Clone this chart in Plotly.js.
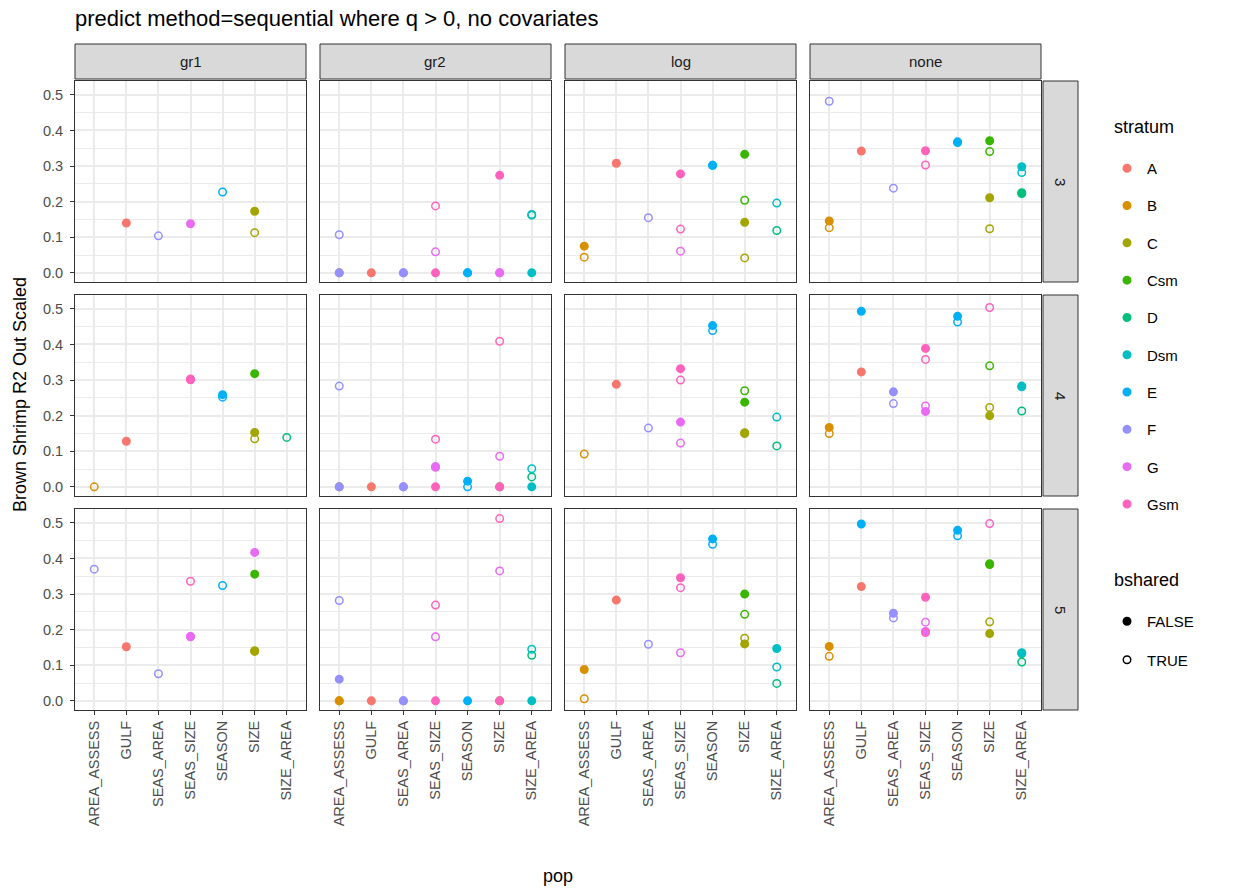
<!DOCTYPE html>
<html>
<head>
<meta charset="utf-8">
<script src="https://cdn.plot.ly/plotly-3.0.1.min.js"></script>
<style>html,body{margin:0;padding:0;background:#fff;}#chart{width:1233px;height:892px;}</style>
</head>
<body>
<div id="chart"></div>
<script>
// ---------------- data ----------------
const pops = ['AREA_ASSESS','GULF','SEAS_AREA','SEAS_SIZE','SEASON','SIZE','SIZE_AREA'];
const methods = ['gr1','gr2','log','none'];
const qLevels = ['3','4','5'];
const strata = ['A','B','C','Csm','D','Dsm','E','F','G','Gsm'];
const strataColors = ['#F8766D','#D89000','#A3A500','#39B600','#00BF7D','#00BFC4','#00B0F6','#9590FF','#E76BF3','#FF62BC'];
const sharedLevels = ['FALSE','TRUE'];

// one entry per point (parallel arrays)
const ptMethod = [
 'gr1','gr1','gr1','gr1','gr1','gr1',
 'gr2','gr2','gr2','gr2','gr2','gr2','gr2','gr2','gr2','gr2','gr2','gr2','gr2','gr2','gr2','gr2','gr2',
 'log','log','log','log','log','log','log','log','log','log','log','log','log','log','log',
 'none','none','none','none','none','none','none','none','none','none','none','none','none','none','none','none','none',
 'gr1','gr1','gr1','gr1','gr1','gr1','gr1','gr1','gr1','gr1',
 'gr2','gr2','gr2','gr2','gr2','gr2','gr2','gr2','gr2','gr2','gr2','gr2','gr2','gr2','gr2','gr2','gr2','gr2','gr2',
 'log','log','log','log','log','log','log','log','log','log','log','log','log','log','log',
 'none','none','none','none','none','none','none','none','none','none','none','none','none','none','none','none','none','none','none',
 'gr1','gr1','gr1','gr1','gr1','gr1','gr1','gr1','gr1','gr1','gr1',
 'gr2','gr2','gr2','gr2','gr2','gr2','gr2','gr2','gr2','gr2','gr2','gr2','gr2','gr2','gr2','gr2','gr2','gr2',
 'log','log','log','log','log','log','log','log','log','log','log','log','log','log','log','log',
 'none','none','none','none','none','none','none','none','none','none','none','none','none','none','none','none','none','none','none','none'
];
const ptQ = [
 '3','3','3','3','3','3',
 '3','3','3','3','3','3','3','3','3','3','3','3','3','3','3','3','3',
 '3','3','3','3','3','3','3','3','3','3','3','3','3','3','3',
 '3','3','3','3','3','3','3','3','3','3','3','3','3','3','3','3','3',
 '4','4','4','4','4','4','4','4','4','4',
 '4','4','4','4','4','4','4','4','4','4','4','4','4','4','4','4','4','4','4',
 '4','4','4','4','4','4','4','4','4','4','4','4','4','4','4',
 '4','4','4','4','4','4','4','4','4','4','4','4','4','4','4','4','4','4','4',
 '5','5','5','5','5','5','5','5','5','5','5',
 '5','5','5','5','5','5','5','5','5','5','5','5','5','5','5','5','5','5',
 '5','5','5','5','5','5','5','5','5','5','5','5','5','5','5','5',
 '5','5','5','5','5','5','5','5','5','5','5','5','5','5','5','5','5','5','5','5'
];
const ptPop = [
 // gr1 / 3
 'GULF','SEAS_AREA','SEAS_SIZE','SEASON','SIZE','SIZE',
 // gr2 / 3
 'AREA_ASSESS','AREA_ASSESS','AREA_ASSESS','GULF','SEAS_AREA','SEAS_AREA','SEAS_SIZE','SEAS_SIZE','SEAS_SIZE','SEASON','SEASON','SIZE','SIZE','SIZE','SIZE_AREA','SIZE_AREA','SIZE_AREA',
 // log / 3
 'AREA_ASSESS','AREA_ASSESS','GULF','SEAS_AREA','SEAS_SIZE','SEAS_SIZE','SEAS_SIZE','SEASON','SEASON','SIZE','SIZE','SIZE','SIZE','SIZE_AREA','SIZE_AREA',
 // none / 3
 'AREA_ASSESS','AREA_ASSESS','AREA_ASSESS','GULF','SEAS_AREA','SEAS_SIZE','SEAS_SIZE','SEASON','SEASON','SIZE','SIZE','SIZE','SIZE','SIZE_AREA','SIZE_AREA','SIZE_AREA','SIZE_AREA',
 // gr1 / 4
 'AREA_ASSESS','GULF','SEAS_SIZE','SEAS_SIZE','SEASON','SEASON','SIZE','SIZE','SIZE','SIZE_AREA',
 // gr2 / 4
 'AREA_ASSESS','AREA_ASSESS','AREA_ASSESS','GULF','SEAS_AREA','SEAS_AREA','SEAS_SIZE','SEAS_SIZE','SEAS_SIZE','SEAS_SIZE','SEASON','SEASON','SIZE','SIZE','SIZE','SIZE','SIZE_AREA','SIZE_AREA','SIZE_AREA',
 // log / 4
 'AREA_ASSESS','GULF','SEAS_AREA','SEAS_SIZE','SEAS_SIZE','SEAS_SIZE','SEAS_SIZE','SEASON','SEASON','SIZE','SIZE','SIZE','SIZE','SIZE_AREA','SIZE_AREA',
 // none / 4
 'AREA_ASSESS','AREA_ASSESS','GULF','GULF','SEAS_AREA','SEAS_AREA','SEAS_SIZE','SEAS_SIZE','SEAS_SIZE','SEAS_SIZE','SEASON','SEASON','SIZE','SIZE','SIZE','SIZE','SIZE_AREA','SIZE_AREA','SIZE_AREA',
 // gr1 / 5
 'AREA_ASSESS','GULF','SEAS_AREA','SEAS_SIZE','SEAS_SIZE','SEAS_SIZE','SEASON','SIZE','SIZE','SIZE','SIZE',
 // gr2 / 5
 'AREA_ASSESS','AREA_ASSESS','AREA_ASSESS','AREA_ASSESS','GULF','SEAS_AREA','SEAS_AREA','SEAS_SIZE','SEAS_SIZE','SEAS_SIZE','SEASON','SIZE','SIZE','SIZE','SIZE','SIZE_AREA','SIZE_AREA','SIZE_AREA',
 // log / 5
 'AREA_ASSESS','AREA_ASSESS','GULF','SEAS_AREA','SEAS_SIZE','SEAS_SIZE','SEAS_SIZE','SEASON','SEASON','SIZE','SIZE','SIZE','SIZE','SIZE_AREA','SIZE_AREA','SIZE_AREA',
 // none / 5
 'AREA_ASSESS','AREA_ASSESS','GULF','GULF','SEAS_AREA','SEAS_AREA','SEAS_SIZE','SEAS_SIZE','SEAS_SIZE','SEAS_SIZE','SEASON','SEASON','SIZE','SIZE','SIZE','SIZE','SIZE','SIZE_AREA','SIZE_AREA','SIZE_AREA'
];
const ptStratum = [
 'A','F','G','E','C','C',
 'F','B','F','A','F','F','Gsm','G','Gsm','E','E','Gsm','G','G','Dsm','D','Dsm',
 'B','B','A','F','Gsm','Gsm','G','E','E','Csm','Csm','C','C','Dsm','D',
 'F','B','B','A','F','Gsm','Gsm','E','E','Csm','Csm','C','C','Dsm','Dsm','D','D',
 'B','A','Gsm','Gsm','E','E','Csm','C','C','D',
 'F','B','F','A','F','F','Gsm','G','G','Gsm','E','E','Gsm','G','Csm','Gsm','Dsm','D','Dsm',
 'B','A','F','Gsm','Gsm','G','G','E','E','Csm','Csm','C','C','Dsm','D',
 'B','B','E','A','F','F','Gsm','Gsm','G','G','E','E','Gsm','Csm','C','C','Dsm','Dsm','D',
 'F','A','F','Gsm','G','G','E','G','Csm','C','C',
 'F','F','B','B','A','F','F','Gsm','G','Gsm','E','Gsm','G','Csm','Gsm','Dsm','D','Dsm',
 'B','B','A','F','Gsm','Gsm','G','E','E','Csm','Csm','C','C','Dsm','Dsm','D',
 'B','B','E','A','F','F','Gsm','G','G','Gsm','E','E','Gsm','Csm','Csm','C','C','D','Dsm','D'
];
const ptShared = [
 'FALSE','TRUE','FALSE','TRUE','FALSE','TRUE',
 'TRUE','TRUE','FALSE','FALSE','FALSE','TRUE','TRUE','TRUE','FALSE','FALSE','TRUE','FALSE','FALSE','TRUE','TRUE','TRUE','FALSE',
 'FALSE','TRUE','FALSE','TRUE','FALSE','TRUE','TRUE','FALSE','TRUE','FALSE','TRUE','FALSE','TRUE','TRUE','TRUE',
 'TRUE','FALSE','TRUE','FALSE','TRUE','FALSE','TRUE','FALSE','TRUE','FALSE','TRUE','FALSE','TRUE','FALSE','TRUE','FALSE','TRUE',
 'TRUE','FALSE','FALSE','TRUE','FALSE','TRUE','FALSE','FALSE','TRUE','TRUE',
 'TRUE','TRUE','FALSE','FALSE','FALSE','TRUE','TRUE','FALSE','TRUE','FALSE','FALSE','TRUE','TRUE','TRUE','TRUE','FALSE','TRUE','TRUE','FALSE',
 'TRUE','FALSE','TRUE','FALSE','TRUE','FALSE','TRUE','FALSE','TRUE','TRUE','FALSE','FALSE','TRUE','TRUE','TRUE',
 'FALSE','TRUE','FALSE','FALSE','FALSE','TRUE','FALSE','TRUE','TRUE','FALSE','FALSE','TRUE','TRUE','TRUE','TRUE','FALSE','FALSE','TRUE','TRUE',
 'TRUE','FALSE','TRUE','TRUE','FALSE','TRUE','TRUE','FALSE','FALSE','FALSE','TRUE',
 'TRUE','FALSE','FALSE','TRUE','FALSE','FALSE','TRUE','TRUE','TRUE','FALSE','FALSE','TRUE','TRUE','TRUE','FALSE','TRUE','TRUE','FALSE',
 'FALSE','TRUE','FALSE','TRUE','FALSE','TRUE','TRUE','FALSE','TRUE','FALSE','TRUE','TRUE','FALSE','FALSE','TRUE','TRUE',
 'FALSE','TRUE','FALSE','FALSE','FALSE','TRUE','FALSE','TRUE','FALSE','TRUE','FALSE','TRUE','TRUE','FALSE','TRUE','TRUE','FALSE','FALSE','FALSE','TRUE'
];
const ptR2 = [
 0.140,0.104,0.138,0.227,0.173,0.113,
 0.107,0,0,0,0,0,0.188,0.059,0,0,0,0.274,0,0,0.164,0.162,0,
 0.075,0.044,0.308,0.155,0.278,0.123,0.061,0.302,0.302,0.333,0.204,0.142,0.042,0.196,0.119,
 0.482,0.146,0.127,0.342,0.238,0.343,0.303,0.368,0.366,0.371,0.341,0.211,0.124,0.298,0.282,0.223,0.225,
 0.000,0.128,0.303,0.301,0.259,0.252,0.318,0.153,0.135,0.139,
 0.283,0,0,0,0,0,0.134,0.055,0.057,0,0.016,0,0.409,0.086,0,0,0.051,0.028,0,
 0.092,0.288,0.165,0.332,0.300,0.182,0.123,0.453,0.439,0.270,0.238,0.152,0.150,0.196,0.115,
 0.167,0.150,0.493,0.323,0.267,0.234,0.389,0.358,0.227,0.212,0.479,0.463,0.504,0.340,0.223,0.200,0.283,0.281,0.213,
 0.370,0.152,0.076,0.336,0.181,0.180,0.324,0.417,0.356,0.139,0.141,
 0.282,0.061,0,0,0,0,0,0.269,0.180,0,0,0.512,0.365,0,0,0.145,0.128,0,
 0.088,0.006,0.283,0.159,0.346,0.318,0.135,0.455,0.440,0.300,0.243,0.176,0.160,0.147,0.095,0.049,
 0.153,0.125,0.497,0.321,0.246,0.233,0.291,0.221,0.195,0.192,0.479,0.464,0.498,0.385,0.383,0.222,0.189,0.133,0.135,0.109
];
const yTickVals = [0,0.1,0.2,0.3,0.4,0.5];
const yTickText = ['0.0','0.1','0.2','0.3','0.4','0.5'];

// ---------------- layout geometry ----------------
const W = 1233, H = 892;
const colLeft = [75, 320, 565, 810], colW = 231;
const rowTop = [81, 295, 509], rowH = 201;
const stripTop = 44, stripRightX = 1043, stripSize = 35;
const yRange = [-0.0257, 0.539];
const FONT = 'Liberation Sans, Arial, sans-serif';
const MSIZE = 7.5, MLINE = 1.5;

const px = v => v / W;
const py = v => 1 - v / H;

const layout = {
  width: W, height: H,
  margin: {l: 0, r: 0, t: 0, b: 0},
  paper_bgcolor: '#ffffff', plot_bgcolor: '#ffffff',
  font: {family: FONT, color: '#1A1A1A'},
  hovermode: false,
  title: {text: 'predict method=sequential where q > 0, no covariates', x: px(75), xanchor: 'left', xref: 'paper',
          y: py(18), yanchor: 'middle', yref: 'container', font: {size: 22, color: '#000000', family: FONT}},
  shapes: [], annotations: [],
  legend: {x: px(1107), y: py(152), xanchor: 'left', yanchor: 'top', bgcolor: 'rgba(0,0,0,0)',
           font: {size: 15, color: '#000'}, tracegroupgap: 14.8, itemwidth: 30},
  legend2: {x: px(1107), y: py(605), xanchor: 'left', yanchor: 'top', bgcolor: 'rgba(0,0,0,0)',
            font: {size: 15, color: '#000'}, tracegroupgap: 16, itemwidth: 30}
};

const traces = [];
const stratIdx = s => strata.indexOf(s);

for (let r = 0; r < qLevels.length; r++) {
  for (let c = 0; c < methods.length; c++) {
    const idx = r * 4 + c + 1;
    const xn = 'xaxis' + (idx === 1 ? '' : idx);
    const yn = 'yaxis' + (idx === 1 ? '' : idx);
    layout[xn] = {
      domain: [px(colLeft[c]), px(colLeft[c] + colW)], anchor: 'y' + idx,
      type: 'category', categoryorder: 'array', categoryarray: pops, range: [-0.6, pops.length - 0.4],
      showgrid: true, gridcolor: '#EBEBEB', gridwidth: 2, zeroline: false,
      showline: true, mirror: true, linecolor: '#333333', linewidth: 1,
      ticks: r === 2 ? 'outside' : '', ticklen: 4, tickcolor: '#333333', tickwidth: 1,
      showticklabels: r === 2, tickangle: -90, tickfont: {size: 14.5, color: '#4D4D4D', family: FONT},
      fixedrange: true
    };
    layout[yn] = {
      domain: [py(rowTop[r] + rowH), py(rowTop[r])], anchor: 'x' + idx,
      range: yRange, tickmode: 'array', tickvals: yTickVals, ticktext: yTickText,
      showgrid: true, gridcolor: '#EBEBEB', gridwidth: 2, zeroline: false,
      minor: {tickmode: 'linear', tick0: 0, dtick: 0.05, showgrid: true, gridcolor: '#EBEBEB', gridwidth: 1, ticks: ''},
      showline: true, mirror: true, linecolor: '#333333', linewidth: 1,
      ticks: c === 0 ? 'outside' : '', ticklen: 4, tickcolor: '#333333', tickwidth: 1,
      ticklabelstandoff: 4,
      showticklabels: c === 0, tickfont: {size: 14.5, color: '#4D4D4D', family: FONT},
      fixedrange: true
    };

    // points for this panel, ordered by stratum so later strata draw on top
    const sel = [];
    for (let i = 0; i < ptR2.length; i++) {
      if (ptMethod[i] === methods[c] && ptQ[i] === qLevels[r]) sel.push(i);
    }
    sel.sort((a, b) => stratIdx(ptStratum[a]) - stratIdx(ptStratum[b]) || a - b);
    const cols = sel.map(i => strataColors[stratIdx(ptStratum[i])]);
    traces.push({
      type: 'scatter', mode: 'markers',
      x: sel.map(i => ptPop[i]), y: sel.map(i => ptR2[i]),
      xaxis: 'x' + idx, yaxis: 'y' + idx, showlegend: false, cliponaxis: false,
      marker: {size: MSIZE, color: cols,
               symbol: sel.map(i => ptShared[i] === 'TRUE' ? 'circle-open' : 'circle'),
               line: {width: MLINE, color: cols}}
    });
  }
}

// strips (top: method, right: q)
for (let c = 0; c < methods.length; c++) {
  layout.shapes.push({type: 'rect', xref: 'paper', yref: 'paper',
    x0: px(colLeft[c]), x1: px(colLeft[c] + colW), y0: py(stripTop + stripSize), y1: py(stripTop),
    fillcolor: '#D9D9D9', line: {color: '#333333', width: 1}, layer: 'below'});
  layout.annotations.push({xref: 'paper', yref: 'paper', x: px(colLeft[c] + colW / 2), y: py(stripTop + stripSize / 2),
    text: methods[c], showarrow: false, xanchor: 'center', yanchor: 'middle', font: {size: 15, color: '#1A1A1A', family: FONT}});
}
for (let r = 0; r < qLevels.length; r++) {
  layout.shapes.push({type: 'rect', xref: 'paper', yref: 'paper',
    x0: px(stripRightX), x1: px(stripRightX + stripSize), y0: py(rowTop[r] + rowH), y1: py(rowTop[r]),
    fillcolor: '#D9D9D9', line: {color: '#333333', width: 1}, layer: 'below'});
  layout.annotations.push({xref: 'paper', yref: 'paper', x: px(stripRightX + stripSize / 2), y: py(rowTop[r] + rowH / 2),
    text: qLevels[r], textangle: 90, showarrow: false, xanchor: 'center', yanchor: 'middle', font: {size: 15, color: '#1A1A1A', family: FONT}});
}

// axis titles
layout.annotations.push({xref: 'paper', yref: 'paper', x: px(20), y: py(395), text: 'Brown Shrimp R2 Out Scaled',
  textangle: -90, showarrow: false, xanchor: 'center', yanchor: 'middle', font: {size: 18, color: '#000', family: FONT}});
layout.annotations.push({xref: 'paper', yref: 'paper', x: px(558), y: py(876), text: 'pop',
  showarrow: false, xanchor: 'center', yanchor: 'middle', font: {size: 18, color: '#000', family: FONT}});
// legend titles
layout.annotations.push({xref: 'paper', yref: 'paper', x: px(1112), y: py(127), text: 'stratum',
  showarrow: false, xanchor: 'left', yanchor: 'middle', font: {size: 18, color: '#000', family: FONT}});
layout.annotations.push({xref: 'paper', yref: 'paper', x: px(1112), y: py(580), text: 'bshared',
  showarrow: false, xanchor: 'left', yanchor: 'middle', font: {size: 18, color: '#000', family: FONT}});

// legend entries
strata.forEach((s, k) => {
  traces.push({type: 'scatter', mode: 'markers', x: [null], y: [null], xaxis: 'x', yaxis: 'y',
    name: s, legend: 'legend', legendgroup: 's' + k, showlegend: true,
    marker: {size: MSIZE, color: strataColors[k], symbol: 'circle', line: {width: MLINE, color: strataColors[k]}}});
});
sharedLevels.forEach((b, k) => {
  traces.push({type: 'scatter', mode: 'markers', x: [null], y: [null], xaxis: 'x', yaxis: 'y',
    name: b, legend: 'legend2', legendgroup: 'b' + k, showlegend: true,
    marker: {size: MSIZE, color: '#000000', symbol: b === 'TRUE' ? 'circle-open' : 'circle', line: {width: MLINE, color: '#000000'}}});
});

Plotly.newPlot('chart', traces, layout, {staticPlot: true, displayModeBar: false});
</script>
</body>
</html>
